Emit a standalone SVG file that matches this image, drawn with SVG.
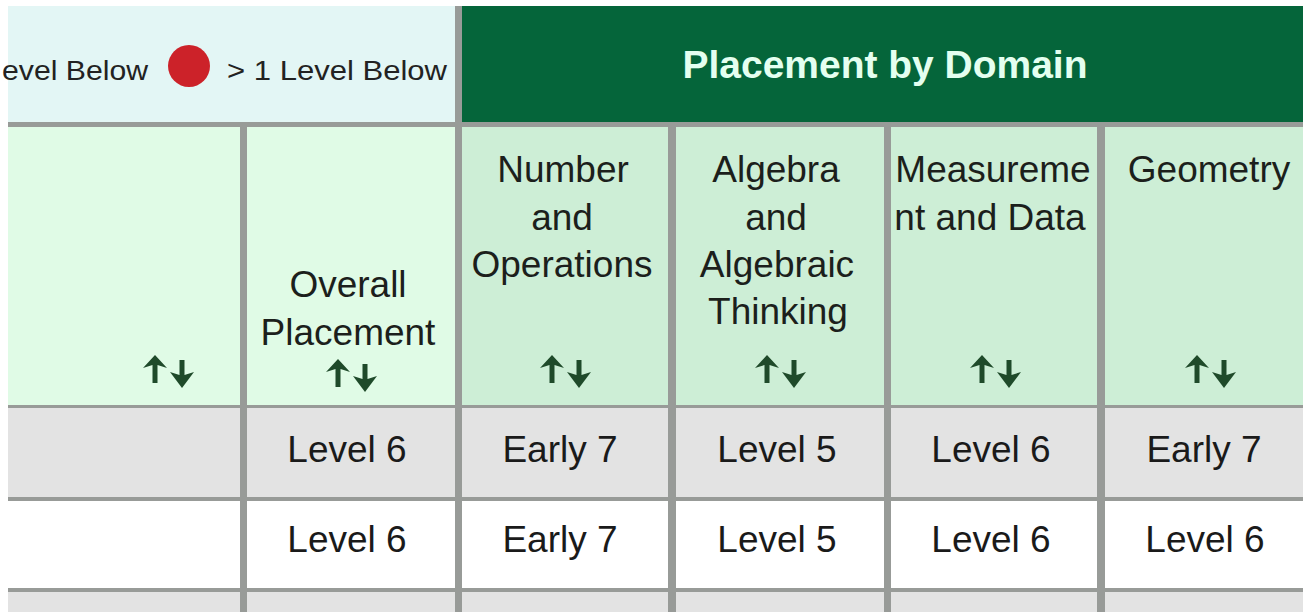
<svg xmlns="http://www.w3.org/2000/svg" width="1303" height="612" viewBox="0 0 1303 612">
<style>
.hd{font-family:"Liberation Sans",Arial,sans-serif;font-size:37px;fill:#1c1f1c;text-anchor:middle}
.dt{font-family:"Liberation Sans",Arial,sans-serif;font-size:37px;fill:#1a1a1a;text-anchor:middle}
.lg{font-family:"Liberation Sans",Arial,sans-serif;font-size:28px;fill:#222}
.ttl{font-family:"Liberation Sans",Arial,sans-serif;font-size:39px;font-weight:bold;fill:#e4fff0;text-anchor:middle}
.bd{fill:#989b98}
.hl{fill:#e0fbe6}
.hd2{fill:#cdeed6}
.gr{fill:#e3e3e3}
.wh{fill:#ffffff}
.ic{fill:#1f4a2a}
</style>
<defs>
<g id="sort">
<polygon class="ic" points="0,0 12,13 2.5,10 2.5,28 -2.5,28 -2.5,10 -12,13"/>
<polygon class="ic" points="24.5,5 29.5,5 29.5,20 39,17 27,33 15,17 24.5,20"/>
</g>
</defs>
<rect x="0" y="0" width="1303" height="612" fill="#ffffff"/>

<g id="legend">
<rect x="8" y="6" width="447" height="116" fill="#e3f6f5"/>
<text class="lg" x="2" y="80" textLength="146" lengthAdjust="spacingAndGlyphs">evel Below</text>
<circle cx="189" cy="66" r="21" fill="#cc2229"/>
<text class="lg" x="227" y="80" textLength="220" lengthAdjust="spacingAndGlyphs">&gt; 1 Level Below</text>
</g>

<g id="title">
<rect x="462" y="6" width="841" height="116" fill="#05653a"/>
<text class="ttl" x="885" y="78" textLength="405" lengthAdjust="spacingAndGlyphs">Placement by Domain</text>
</g>

<g id="grid">
<rect class="bd" x="455" y="6" width="7" height="116"/>
<rect class="bd" x="8" y="122" width="1295" height="5"/>
<rect class="bd" x="8" y="405" width="1295" height="3"/>
<rect class="bd" x="8" y="497" width="1295" height="4"/>
<rect class="bd" x="8" y="588" width="1295" height="4"/>
</g>

<g id="hdr-col0">
<rect class="hl" x="8" y="127" width="232" height="278"/>
<use href="#sort" x="155" y="355"/>
</g>
<g id="hdr-overall">
<rect class="hl" x="247" y="127" width="208" height="278"/>
<text class="hd" x="348" y="297">Overall</text>
<text class="hd" x="348" y="345">Placement</text>
<use href="#sort" x="338" y="359"/>
</g>
<g id="hdr-number">
<rect class="hd2" x="462" y="127" width="206" height="278"/>
<text class="hd" x="563" y="182">Number</text>
<text class="hd" x="562" y="230">and</text>
<text class="hd" x="562" y="277">Operations</text>
<use href="#sort" x="552" y="355"/>
</g>
<g id="hdr-algebra">
<rect class="hd2" x="676" y="127" width="208" height="278"/>
<text class="hd" x="776" y="182">Algebra</text>
<text class="hd" x="776" y="230">and</text>
<text class="hd" x="777" y="277">Algebraic</text>
<text class="hd" x="778" y="324">Thinking</text>
<use href="#sort" x="767" y="355"/>
</g>
<g id="hdr-measurement">
<rect class="hd2" x="891" y="127" width="206" height="278"/>
<text class="hd" x="993" y="182">Measureme</text>
<text class="hd" x="990" y="230">nt and Data</text>
<use href="#sort" x="982" y="355"/>
</g>
<g id="hdr-geometry">
<rect class="hd2" x="1105" y="127" width="198" height="278"/>
<text class="hd" x="1209" y="182">Geometry</text>
<use href="#sort" x="1197" y="355"/>
</g>

<g id="row1">
<rect class="gr" x="8" y="408" width="1295" height="89"/>
<text class="dt" x="347" y="462">Level 6</text>
<text class="dt" x="560" y="462">Early 7</text>
<text class="dt" x="777" y="462">Level 5</text>
<text class="dt" x="991" y="462">Level 6</text>
<text class="dt" x="1204" y="462">Early 7</text>
</g>
<g id="row2">
<rect class="wh" x="8" y="501" width="1295" height="87"/>
<text class="dt" x="347" y="552">Level 6</text>
<text class="dt" x="560" y="552">Early 7</text>
<text class="dt" x="777" y="552">Level 5</text>
<text class="dt" x="991" y="552">Level 6</text>
<text class="dt" x="1205" y="552">Level 6</text>
</g>
<g id="row3">
<rect class="gr" x="8" y="592" width="1295" height="20"/>
</g>

<g id="vlines">
<rect class="bd" x="240" y="127" width="7" height="485"/>
<rect class="bd" x="455" y="127" width="7" height="485"/>
<rect class="bd" x="668" y="127" width="8" height="485"/>
<rect class="bd" x="884" y="127" width="7" height="485"/>
<rect class="bd" x="1097" y="127" width="8" height="485"/>
</g>
<g id="connectors"/>
</svg>
